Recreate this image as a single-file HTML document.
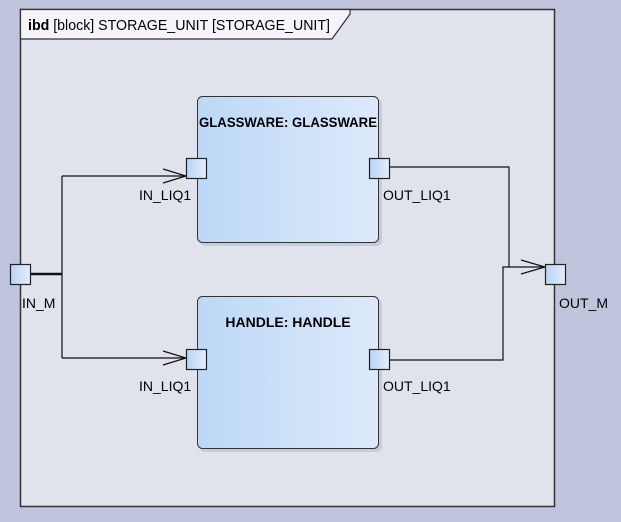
<!DOCTYPE html>
<html><head><style>body{margin:0;background:#c0c4dc;}svg{display:block}text{font-family:"Liberation Sans",sans-serif;font-size:14px;fill:#000}</style></head>
<body><svg width="621" height="522" viewBox="0 0 621 522">
<defs><linearGradient id="g" x1="0" x2="1"><stop offset="0" stop-color="#bcd8f6"/><stop offset="1" stop-color="#dde9fa"/></linearGradient>
<linearGradient id="p" x1="0" x2="1"><stop offset="0" stop-color="#b8d4f4"/><stop offset="1" stop-color="#e4eefc"/></linearGradient></defs>
<rect x="0" y="0" width="621" height="522" fill="#c0c4dc"/>
<rect x="20.5" y="9.5" width="534" height="497" fill="#e0e2ec" stroke="#333" stroke-width="1.5"/>
<path d="M20.5 9.5 H350 V14 L332 39 H20.5 Z" fill="#f6f4f8" stroke="#333" stroke-width="1.2"/>
<text x="28" y="30" style="font-size:14.5px" textLength="302" lengthAdjust="spacingAndGlyphs"><tspan font-weight="bold">ibd</tspan> [block] STORAGE_UNIT [STORAGE_UNIT]</text>
<rect x="200" y="99" width="182" height="147" rx="5" fill="#c8ccd8"/>
<rect x="197.5" y="96.5" width="181" height="146" rx="5" fill="url(#g)" stroke="#333"/>
<text x="288" y="127" text-anchor="middle" font-weight="bold" style="font-size:14px" textLength="178" lengthAdjust="spacingAndGlyphs">GLASSWARE: GLASSWARE</text>
<rect x="200" y="299" width="182" height="153" rx="5" fill="#c8ccd8"/>
<rect x="197.5" y="296.5" width="181" height="152" rx="5" fill="url(#g)" stroke="#333"/>
<text x="288" y="327" text-anchor="middle" font-weight="bold" style="font-size:14px">HANDLE: HANDLE</text>
<g fill="none" stroke="#111" stroke-width="1.2">
<path d="M30 274 H62"  stroke-width="2.5"/>
<path d="M62 176 V358 M62 176 H186 M62 358 H186"/>
<path d="M163 169 L186 176 L163 183 M163 351 L186 358 L163 365"/>
<path d="M389 167 H509 V267 M389 360 H503 V267 H545"/>
<path d="M521 260 L545 267 L521 274"/>
</g>
<g fill="url(#p)" stroke="#222" stroke-width="1.2">
<rect x="186.5" y="158.5" width="20" height="20"/>
<rect x="369.5" y="158.5" width="20" height="20"/>
<rect x="186.5" y="349.5" width="20" height="20"/>
<rect x="369.5" y="349.5" width="20" height="20"/>
<rect x="10.5" y="264.5" width="20" height="20"/>
<rect x="545.5" y="264.5" width="20" height="20"/>
</g>
<text x="139" y="200">IN_LIQ1</text>
<text x="383" y="200">OUT_LIQ1</text>
<text x="139" y="391">IN_LIQ1</text>
<text x="383" y="391">OUT_LIQ1</text>
<text x="22" y="308">IN_M</text>
<text x="559" y="308">OUT_M</text>
</svg></body></html>
